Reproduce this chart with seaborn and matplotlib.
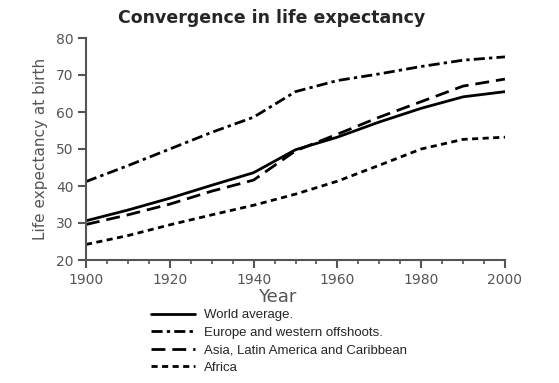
import numpy as np
import pandas as pd
import matplotlib
matplotlib.use("Agg")
import matplotlib.pyplot as plt
import seaborn as sns
from matplotlib.ticker import MultipleLocator
from matplotlib.lines import Line2D

years = [1900, 1910, 1920, 1930, 1940, 1950, 1960, 1970, 1980, 1990, 2000]
world = [30.6, 33.5, 36.7, 40.2, 43.6, 49.8, 53.2, 57.3, 61.0, 64.1, 65.5]
europe = [41.2, 45.5, 50.0, 54.5, 58.6, 65.5, 68.5, 70.3, 72.3, 74.0, 74.9]
asia = [29.6, 32.2, 35.1, 38.6, 41.6, 49.5, 54.0, 58.6, 62.8, 67.0, 68.9]
africa = [24.2, 26.6, 29.5, 32.2, 34.8, 37.8, 41.3, 45.6, 50.0, 52.6, 53.2]
labels = ["World average.", "Europe and western offshoots.",
          "Asia, Latin America and Caribbean", "Africa"]

df = pd.concat([
    pd.DataFrame({"Year": years, "value": v, "series": lab})
    for v, lab in zip([world, europe, asia, africa], labels)
])

sns.set_style("white")
plt.rcParams["font.family"] = ["DejaVu Sans"]

fig = plt.figure(figsize=(5.59, 3.83), dpi=100)
ax = fig.add_axes([86/559, 1-260/383, (505-86)/559, (260-38)/383])

dashes = {
    labels[0]: "",
    labels[1]: (4, 1.5, 1.2, 1.5),
    labels[2]: (5, 2.5),
    labels[3]: (2.2, 1.6),
}
sns.lineplot(data=df, x="Year", y="value", hue="series", style="series",
             palette=["black"]*4, dashes=dashes, linewidth=2.0, ax=ax,
             legend=False)

ax.set_xlim(1900, 2000)
ax.set_ylim(20, 80)
ax.set_xticks([1900, 1920, 1940, 1960, 1980, 2000])
ax.xaxis.set_minor_locator(MultipleLocator(5))
ax.set_yticks([20, 30, 40, 50, 60, 70, 80])
gray = "#555555"
for s in ["top", "right"]:
    ax.spines[s].set_visible(False)
for s in ["left", "bottom"]:
    ax.spines[s].set_color(gray)
    ax.spines[s].set_linewidth(1.5)
ax.tick_params(axis="both", which="major", direction="out", length=6, width=1.5,
               color=gray, labelcolor=gray, labelsize=10, left=True, bottom=True, pad=3)
ax.tick_params(axis="x", which="minor", direction="out", length=3, width=1.2,
               color=gray, bottom=True)
ax.set_xlabel("Year", fontsize=13, color=gray, labelpad=0)
ax.xaxis.set_label_coords((277-86)/(505-86), -0.125)
ax.set_ylabel("Life expectancy at birth", fontsize=11, color=gray, labelpad=6)
fig.text(272/559, 1-18/383, "Convergence in life expectancy", fontsize=12.5,
         fontweight="bold", ha="center", va="center")

hs = []
for lab in labels:
    d = dashes[lab]
    h = Line2D([], [], color="black", linewidth=2.0)
    if d:
        h.set_dashes(d)
    hs.append(h)
fig.legend(hs, labels, loc="upper left", bbox_to_anchor=(151/559, 1-309/383),
           frameon=False, prop={"family": "Liberation Sans", "size": 9.5},
           handlelength=3.3, handletextpad=0.75,
           labelspacing=0.4, borderaxespad=0, borderpad=0)

fig.savefig("out.png", dpi=100)
